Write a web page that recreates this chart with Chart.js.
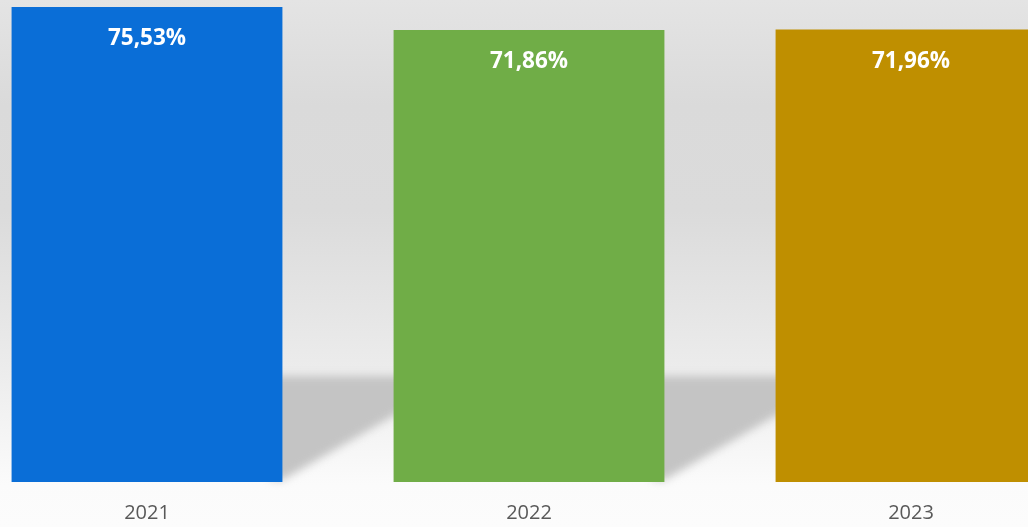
<!DOCTYPE html>
<html>
<head>
<meta charset="utf-8">
<script src="https://cdn.jsdelivr.net/npm/chart.js@4"></script>
<style>
  html, body { margin: 0; padding: 0; overflow: hidden; background: #fbfbfb; }
  #wrap { position: absolute; left: -44.5px; top: 0; width: 1146px; height: 527px; }
</style>
</head>
<body>
<div id="wrap"><canvas id="chart"></canvas></div>
<script>
const years = ["2021", "2022", "2023"];
const rates = [75.53, 71.86, 71.96];
const barColors = ["#0a6ed7", "#70ad47", "#bf8f00"];

// wall fading into the floor, with the soft floor shadow behind each bar
const backdrop = {
  id: "backdrop",
  beforeDraw(chart) {
    const { ctx, width, height } = chart;
    const shadowTop = 376;
    ctx.save();
    const g = ctx.createLinearGradient(0, 0, 0, height);
    g.addColorStop(0, "#e4e4e4");
    g.addColorStop(0.2, "#dadada");
    g.addColorStop(0.4, "#dbdbdb");
    g.addColorStop(0.6, "#e6e6e6");
    g.addColorStop(0.7, "#ececec");
    g.addColorStop(0.92, "#fbfbfb");
    g.addColorStop(1, "#fcfcfc");
    ctx.fillStyle = g;
    ctx.fillRect(0, 0, width, height);

    ctx.filter = "blur(4px)";
    ctx.fillStyle = "#c4c4c4";
    chart.getDatasetMeta(0).data.forEach(bar => {
      const right = bar.x + bar.width / 2;
      const base = bar.base;
      ctx.beginPath();
      ctx.moveTo(right - 12, shadowTop);
      ctx.lineTo(right + 180, shadowTop);
      ctx.lineTo(right, base - 2);
      ctx.lineTo(right - 12, base - 2);
      ctx.closePath();
      ctx.fill();
    });
    ctx.restore();
  }
};

// value labels inside the top of each bar
const valueLabels = {
  id: "valueLabels",
  afterDatasetsDraw(chart) {
    const { ctx } = chart;
    ctx.save();
    ctx.fillStyle = "#ffffff";
    ctx.font = "bold 22.5px 'Open Sans'";
    ctx.textAlign = "center";
    ctx.textBaseline = "middle";
    chart.getDatasetMeta(0).data.forEach((bar, i) => {
      const txt = rates[i].toFixed(2).replace(".", ",") + "%";
      ctx.fillText(txt, bar.x, bar.y + 32);
    });
    ctx.restore();
  }
};

new Chart(document.getElementById("chart"), {
  type: "bar",
  data: {
    labels: years,
    datasets: [{
      data: rates,
      backgroundColor: barColors,
      borderWidth: 0,
      categoryPercentage: 1,
      barPercentage: 0.709
    }]
  },
  options: {
    responsive: true,
    maintainAspectRatio: false,
    animation: false,
    layout: { padding: 0 },
    plugins: {
      legend: { display: false },
      tooltip: { enabled: false }
    },
    scales: {
      x: {
        grid: { display: false, drawTicks: false },
        border: { display: false },
        ticks: {
          color: "#595959",
          font: { family: "'Open Sans'", size: 20 },
          padding: 19
        },
        afterFit(scale) { scale.height = 45; }
      },
      y: {
        display: false,
        min: 0,
        max: 76.64
      }
    }
  },
  plugins: [backdrop, valueLabels]
});
</script>
</body>
</html>
